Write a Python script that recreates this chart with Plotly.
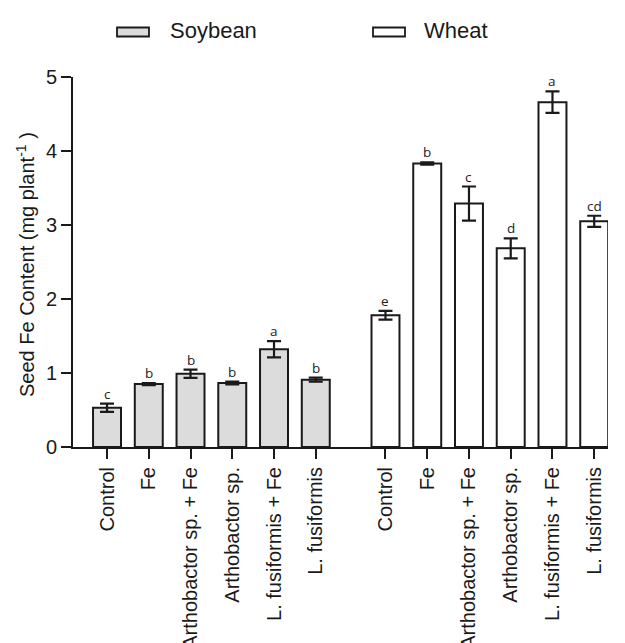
import plotly.graph_objects as go

# ---- data ----
categories = ["Control", "Fe", "Arthobactor sp. + Fe", "Arthobactor sp.",
              "L. fusiformis + Fe", "L. fusiformis"]
soy_values = [0.53, 0.85, 0.99, 0.865, 1.32, 0.91]
soy_err = [0.055, 0.015, 0.055, 0.018, 0.11, 0.028]
soy_letters = ["c", "b", "b", "b", "a", "b"]
wheat_values = [1.78, 3.83, 3.29, 2.685, 4.66, 3.05]
wheat_err = [0.06, 0.015, 0.23, 0.135, 0.145, 0.075]
wheat_letters = ["e", "b", "c", "d", "a", "cd"]
y_ticks = [0, 1, 2, 3, 4, 5]

# ---- layout helpers ----
n = len(categories)
group_gap = 6.67
soy_pos = [i for i in range(n)]
wheat_pos = [i + group_gap for i in range(n)]

OFF = 8  # page body margin
W, H = 625 - OFF, 643 - OFF
ml, mr, mt, mb = 73 - OFF, 17, 77 - OFF, 196
pw = W - ml - mr
ph = H - mt - mb

def px_x(p):  # screen pixel -> paper
    return (p - OFF - ml) / pw

def px_y(p):
    return (H - mb - (p - OFF)) / ph

FONT = "Liberation Sans, Arial, sans-serif"

fig = go.Figure()
fig.add_trace(go.Bar(
    x=soy_pos, y=soy_values, name="Soybean", width=0.67,
    marker=dict(color="#dcdcdc", line=dict(color="#1a1a1a", width=2)),
    error_y=dict(type="data", array=soy_err, visible=True,
                 color="#1a1a1a", thickness=2.2, width=7),
    showlegend=False,
))
fig.add_trace(go.Bar(
    x=wheat_pos, y=wheat_values, name="Wheat", width=0.67,
    marker=dict(color="#ffffff", line=dict(color="#1a1a1a", width=2)),
    error_y=dict(type="data", array=wheat_err, visible=True,
                 color="#1a1a1a", thickness=2.2, width=7),
    showlegend=False,
))

annotations = []
for pos, v, e, t in list(zip(soy_pos, soy_values, soy_err, soy_letters)) + \
        list(zip(wheat_pos, wheat_values, wheat_err, wheat_letters)):
    annotations.append(dict(
        x=pos, y=v + e, xref="x", yref="y", text=t, showarrow=False,
        yanchor="bottom", xanchor="center", yshift=-1,
        font=dict(family="Open Sans, sans-serif", size=13.5, color="#222222"),
    ))

# y-axis title
annotations.append(dict(
    x=px_x(25), y=px_y(265), xref="paper", yref="paper",
    text="Seed Fe Content (mg plant<sup>-1</sup> )", textangle=-90,
    showarrow=False, xanchor="center", yanchor="middle",
    font=dict(family=FONT, size=20, color="#1a1a1a"),
))

# manual legend
shapes = []
legend_items = [("Soybean", "#dcdcdc", 117, 168), ("Wheat", "#ffffff", 373, 422)]
for name, col, bx, tx in legend_items:
    shapes.append(dict(
        type="rect", xref="paper", yref="paper",
        x0=px_x(bx), x1=px_x(bx + 32), y0=px_y(36.5), y1=px_y(27.5),
        fillcolor=col, line=dict(color="#1a1a1a", width=1.8),
    ))
    annotations.append(dict(
        x=px_x(tx), y=px_y(31), xref="paper", yref="paper", text=name,
        showarrow=False, xanchor="left", yanchor="middle",
        font=dict(family=FONT, size=22, color="#1a1a1a"),
    ))

fig.update_layout(
    width=W, height=H,
    margin=dict(l=ml, r=mr, t=mt, b=mb, pad=0, autoexpand=False),
    plot_bgcolor="white", paper_bgcolor="white",
    annotations=annotations, shapes=shapes,
    font=dict(family=FONT, size=20, color="#1a1a1a"),
    xaxis=dict(
        range=[-0.815, 12.0], tickvals=soy_pos + wheat_pos,
        ticktext=categories + categories, tickangle=-90,
        showline=True, linecolor="#1a1a1a", linewidth=2,
        ticks="outside", ticklen=10, tickwidth=2, tickcolor="#1a1a1a",
        showgrid=False, zeroline=False, automargin=False,
        tickfont=dict(family=FONT, size=20, color="#1a1a1a"),
    ),
    yaxis=dict(
        range=[0, 5], tickvals=y_ticks,
        showline=True, linecolor="#1a1a1a", linewidth=2,
        ticks="outside", ticklen=10, tickwidth=2, tickcolor="#1a1a1a",
        showgrid=False, zeroline=False, automargin=False,
        tickfont=dict(family=FONT, size=20, color="#1a1a1a"),
    ),
)

fig.write_html("out.html")
